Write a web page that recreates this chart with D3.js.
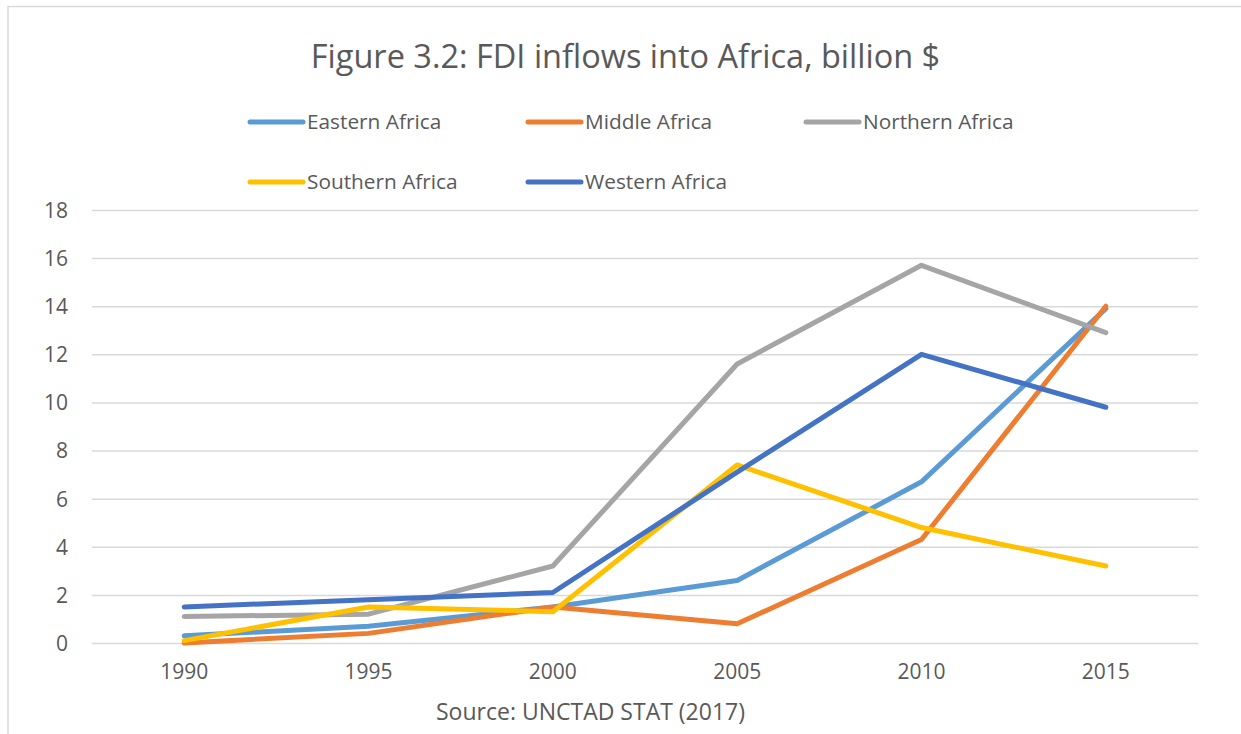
<!DOCTYPE html>
<html>
<head>
<meta charset="utf-8">
<script src="https://cdn.jsdelivr.net/npm/d3@7"></script>
<style>
  html, body { margin: 0; padding: 0; background: #fff; }
  svg { display: block; font-family: "Open Sans", "Noto Sans", sans-serif; }
</style>
</head>
<body>
<svg id="chart" width="1241" height="734"></svg>
<script>
const years = ["1990", "1995", "2000", "2005", "2010", "2015"];
const seriesNames = ["Eastern Africa", "Middle Africa", "Northern Africa", "Southern Africa", "Western Africa"];
const easternAfrica = [0.3, 0.7, 1.5, 2.6, 6.7, 13.9];
const middleAfrica = [0.0, 0.4, 1.5, 0.8, 4.3, 14.0];
const northernAfrica = [1.1, 1.2, 3.2, 11.6, 15.7, 12.9];
const southernAfrica = [0.1, 1.5, 1.3, 7.4, 4.8, 3.2];
const westernAfrica = [1.5, 1.8, 2.1, 7.1, 12.0, 9.8];
const yTicks = [0, 2, 4, 6, 8, 10, 12, 14, 16, 18];
const colors = ["#5B9BD5", "#ED7D31", "#A5A5A5", "#FFC000", "#4472C4"];

const seriesValues = [easternAfrica, middleAfrica, northernAfrica, southernAfrica, westernAfrica];
const series = seriesNames.map((name, i) => ({ name, values: seriesValues[i], color: colors[i] }));

const svg = d3.select("#chart");
const textColor = "#595959";

// chart border
svg.append("rect")
  .attr("x", 8).attr("y", 6.5)
  .attr("width", 1400).attr("height", 900)
  .attr("fill", "none").attr("stroke", "#D9D9D9").attr("stroke-width", 1.5);

// title
svg.append("text")
  .attr("x", 625.5).attr("y", 68)
  .attr("text-anchor", "middle")
  .attr("fill", textColor)
  .attr("font-size", 32.5)
  .text("Figure 3.2: FDI inflows into Africa, billion $");

const plot = { left: 92, right: 1198, top: 210, bottom: 643 };

const x = d3.scaleBand().domain(years).range([plot.left, plot.right]);
const y = d3.scaleLinear().domain([0, 18]).range([plot.bottom, plot.top]);

// gridlines
const yAxis = d3.axisLeft(y).tickValues(yTicks).tickSize(-(plot.right - plot.left)).tickPadding(24);
const yg = svg.append("g").attr("transform", `translate(${plot.left},0)`).call(yAxis);
yg.select(".domain").remove();
yg.selectAll(".tick line").attr("stroke", "#D9D9D9").attr("stroke-width", 1.5);
yg.selectAll(".tick text")
  .attr("fill", textColor)
  .attr("font-size", 21)
  .attr("font-family", "Open Sans")
  .attr("dy", "0.35em");

// x axis labels
const xAxis = d3.axisBottom(x).tickSize(0).tickPadding(21);
const xg = svg.append("g").attr("transform", `translate(0,${plot.bottom})`).call(xAxis);
xg.select(".domain").remove();
xg.selectAll(".tick text")
  .attr("fill", textColor)
  .attr("font-size", 21)
  .attr("font-family", "Open Sans");

// lines
const line = d3.line()
  .x((d, i) => x(years[i]) + x.bandwidth() / 2)
  .y(d => y(d));

svg.append("g").selectAll("path")
  .data(series)
  .join("path")
  .attr("d", d => line(d.values))
  .attr("fill", "none")
  .attr("stroke", d => d.color)
  .attr("stroke-width", 5)
  .attr("stroke-linejoin", "round")
  .attr("stroke-linecap", "round");

// legend
const legendPos = [
  { x: 250, y: 122 }, { x: 528, y: 122 }, { x: 806, y: 122 },
  { x: 250, y: 182 }, { x: 528, y: 182 }
];
const lg = svg.append("g").selectAll("g")
  .data(series)
  .join("g")
  .attr("transform", (d, i) => `translate(${legendPos[i].x},${legendPos[i].y})`);
lg.append("line")
  .attr("x1", 0).attr("x2", 53).attr("y1", 0).attr("y2", 0)
  .attr("stroke", d => d.color).attr("stroke-width", 5).attr("stroke-linecap", "round");
lg.append("text")
  .attr("x", 57).attr("y", 0).attr("dy", "0.35em")
  .attr("fill", textColor)
  .attr("font-size", 20.8)
  .text(d => d.name);

// source
svg.append("text")
  .attr("x", 590.5).attr("y", 720)
  .attr("text-anchor", "middle")
  .attr("fill", textColor)
  .attr("font-size", 23)
  .text("Source: UNCTAD STAT (2017)");
</script>
</body>
</html>
